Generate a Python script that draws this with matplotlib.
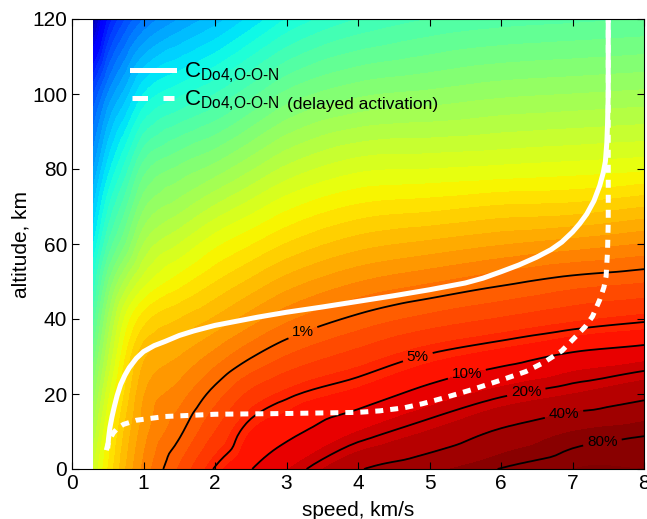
import matplotlib
matplotlib.use("Agg")
import matplotlib.pyplot as plt
import matplotlib.tri as mtri
from matplotlib.lines import Line2D
import numpy as np

plt.rcParams["font.family"] = ["Liberation Sans", "DejaVu Sans"]
plt.rcParams["mathtext.fontset"] = "custom"
plt.rcParams["mathtext.rm"] = "Liberation Sans"

# grid of the background field, log10(probability)
speeds = [0.3, 0.5, 0.75, 1, 1.5, 2, 2.5, 3, 4, 5, 6, 7, 8]
altitudes = [0, 10, 20, 30, 40, 50, 60, 70, 80, 100, 120]
log_prob = [
    [-4.0, -3.4, -2.8, -2.35, -1.77, -1.28, -1.01, -0.81, -0.42, -0.25, -0.09, 0.0, 0.0],
    [-4.35, -3.6, -2.95, -2.5, -2.05, -1.6, -1.2, -1.07, -0.8, -0.59, -0.37, -0.2, -0.125],
    [-4.7, -3.9, -3.15, -2.62, -2.3, -1.91, -1.55, -1.35, -1.14, -0.91, -0.73, -0.6, -0.46],
    [-5.1, -4.25, -3.4, -2.85, -2.6, -2.32, -2.02, -1.79, -1.51, -1.27, -1.11, -0.95, -0.86],
    [-5.5, -4.6, -3.75, -3.3, -3.0, -2.77, -2.5, -2.25, -1.94, -1.73, -1.58, -1.44, -1.34],
    [-5.95, -5.05, -4.35, -3.9, -3.5, -3.21, -2.96, -2.72, -2.41, -2.23, -2.06, -1.91, -1.82],
    [-6.4, -5.6, -5.0, -4.4, -4.0, -3.66, -3.42, -3.19, -2.89, -2.75, -2.62, -2.51, -2.39],
    [-6.8, -6.05, -5.45, -4.85, -4.5, -4.18, -3.91, -3.66, -3.37, -3.28, -3.18, -3.14, -3.01],
    [-7.2, -6.5, -5.9, -5.3, -4.95, -4.72, -4.43, -4.15, -3.85, -3.8, -3.75, -3.7, -3.64],
    [-8.0, -7.4, -6.9, -6.4, -6.05, -5.8, -5.47, -5.15, -4.85, -4.75, -4.65, -4.6, -4.55],
    [-9.6, -8.6, -8.0, -7.6, -7.2, -6.9, -6.55, -6.2, -5.8, -5.6, -5.5, -5.45, -5.4],
]

contour_probs = [0.01, 0.05, 0.1, 0.2, 0.4, 0.8]
contour_labels = ["1%", "5%", "10%", "20%", "40%", "80%"]

# C_Do4,O-O-N
solid_speed = [0.5, 0.51, 0.53, 0.56, 0.59, 0.63, 0.68, 0.74, 0.8, 0.9, 1.0, 1.15, 1.3,
               1.5, 1.7, 2.0, 2.3, 2.6, 3.0, 3.5, 4.0, 4.5, 5.0, 5.5, 5.75, 6.0, 6.25,
               6.5, 6.7, 6.85, 7.0, 7.1, 7.2, 7.3, 7.38, 7.43, 7.46, 7.48, 7.49, 7.5, 7.5]
solid_alt = [5.5, 8, 11, 14, 16.5, 19.5, 22.5, 25, 27, 29.5, 31.3, 32.9, 34,
             35.6, 36.8, 38.3, 39.4, 40.5, 41.8, 43.2, 44.7, 46.2, 47.8, 49.6, 50.9, 52.6, 54.4,
             56.5, 58.5, 60.5, 63.2, 65.4, 68, 71.5, 75.5, 79, 82, 87, 92, 100, 120]

# C_Do4,O-O-N (delayed activation)
dashed_speed = [0.48, 0.5, 0.53, 0.58, 0.64, 0.72, 0.9, 1.3, 2.0, 3.0, 4.0, 4.3, 4.64,
                4.9, 5.19, 5.6, 6.03, 6.35, 6.59, 6.85, 7.05, 7.18, 7.28, 7.38, 7.44,
                7.47, 7.49, 7.5, 7.5]
dashed_alt = [5, 6.5, 8, 9.7, 10.9, 11.9, 13, 14, 14.6, 14.8, 15.1, 15.5, 16.3,
              17.4, 18.9, 21.2, 23.9, 26, 28.3, 31.5, 35.4, 38, 40.7, 45.1, 48.5,
              51.4, 58, 66, 120]

fig = plt.figure(figsize=(6.47, 5.19), dpi=100)
ax = fig.add_axes([72 / 647, 50 / 519, 572 / 647, 450 / 519])

# smooth the coarse grid with matplotlib's own cubic refinement
ysc = 15.0
V, A = np.meshgrid(speeds, altitudes)
Z = np.array(log_prob)
tri = mtri.Triangulation(V.ravel(), A.ravel() / ysc)
interp = mtri.CubicTriInterpolator(tri, Z.ravel(), kind="geom")
tri_f, z_f = mtri.UniformTriRefiner(tri).refine_field(Z.ravel(), triinterpolator=interp, subdiv=3)
tri_f = mtri.Triangulation(tri_f.x, tri_f.y * ysc, tri_f.triangles)

ax.tricontourf(tri_f, z_f, levels=np.arange(-10, 0.01, 0.2), cmap="jet",
               vmin=-10, vmax=0, extend="both")
cs = ax.tricontour(tri_f, z_f, levels=np.log10(contour_probs), colors="k",
                   linewidths=1.3, linestyles="solid")
texts = ax.clabel(cs, fmt=dict(zip(cs.levels, contour_labels)), fontsize=11, inline=True,
                  manual=[(3.23, 36.3), (4.84, 29.6), (5.52, 25.6), (6.36, 19.8),
                          (6.89, 13.6), (7.42, 6.9)])
for t in texts:
    t.set_rotation(0)

ax.plot(solid_speed, solid_alt, color="white", lw=3.6, solid_capstyle="butt")
ax.plot(dashed_speed, dashed_alt, color="white", lw=3.6, dashes=(1.6, 1.4))

handles = [Line2D([], [], color="white", lw=3.6),
           Line2D([], [], color="white", lw=3.6, dashes=(3.1, 3.1))]
labels = [r"C$_{\text{Do4,O-O-N}}$", r"C$_{\text{Do4,O-O-N}}$"]
leg = ax.legend(handles, labels, loc="upper left", bbox_to_anchor=(0.07, 0.952),
                frameon=False, fontsize=16, handlelength=1.9, handletextpad=0.45,
                labelspacing=0.15)
ax.annotate("(delayed activation)", xy=(1, 0), xycoords=leg.get_texts()[1],
            xytext=(5, 1), textcoords="offset points", fontsize=12.5, va="bottom",
            zorder=10)

ax.set_xlim(0, 8)
ax.set_ylim(0, 120)
ax.set_xticks(range(0, 9))
ax.set_yticks(range(0, 121, 20))
ax.tick_params(direction="in", top=True, right=True, length=5, labelsize=15)
ax.set_xlabel("speed, km/s", fontsize=15, labelpad=6)
ax.set_ylabel("altitude, km", fontsize=15, labelpad=1)

fig.savefig("out.png", dpi=100)
